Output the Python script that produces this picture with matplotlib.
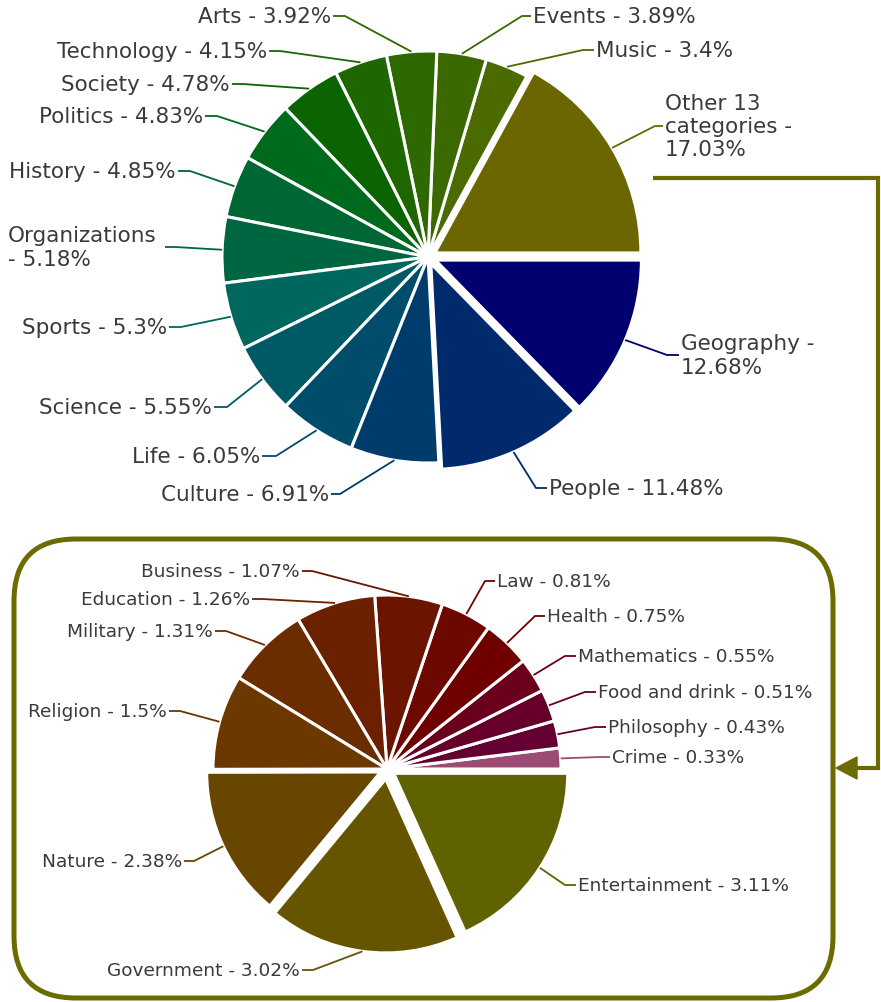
import matplotlib
matplotlib.use('Agg')
import matplotlib.pyplot as plt
from matplotlib.patches import FancyBboxPatch, Polygon
import numpy as np

W, H = 881, 1003

# ---------------- data ----------------
top_labels = ["Other 13\ncategories -\n17.03%", "Music - 3.4%", "Events - 3.89%",
              "Arts - 3.92%", "Technology - 4.15%", "Society - 4.78%",
              "Politics - 4.83%", "History - 4.85%", "Organizations\n- 5.18%",
              "Sports - 5.3%", "Science - 5.55%", "Life - 6.05%",
              "Culture - 6.91%", "People - 11.48%", "Geography -\n12.68%"]
top_values = [17.03, 3.4, 3.89, 3.92, 4.15, 4.78, 4.83, 4.85, 5.18,
              5.3, 5.55, 6.05, 6.91, 11.48, 12.68]
top_colors = ["#6b6600", "#4b6a00", "#3c6800", "#2e6800", "#1e6600", "#0c6400",
              "#006a1c", "#006634", "#006642", "#00675f", "#005a66", "#004c6b",
              "#003c6b", "#002a6b", "#00006e"]
# explode offsets in pixels
top_explode = [8, 0, 0, 0, 0, 0, 0, 0, 0, 0, 0, 0, 0, 7, 8]

bottom_labels = ["Crime - 0.33%", "Philosophy - 0.43%", "Food and drink - 0.51%",
                 "Mathematics - 0.55%", "Health - 0.75%", "Law - 0.81%",
                 "Business - 1.07%", "Education - 1.26%", "Military - 1.31%",
                 "Religion - 1.5%", "Nature - 2.38%", "Government - 3.02%",
                 "Entertainment - 3.11%"]
bottom_values = [0.33, 0.43, 0.51, 0.55, 0.75, 0.81, 1.07, 1.26, 1.31, 1.5,
                 2.38, 3.02, 3.11]
bottom_colors = ["#9c4c74", "#640032", "#66002a", "#6b001c", "#700000", "#6d0800",
                 "#6b1400", "#6b2000", "#6b2c00", "#6b3800", "#684600", "#665500",
                 "#606200"]
bottom_explode = [0, 0, 0, 0, 0, 0, 0, 0, 0, 0, 7, 10, 8]

# ---------------- layout (pixel coords, y downward) ----------------
# (text_x, text_y, ha, elbow_x, line_end_x)
top_layout = [
    (665, 127, 'left', 655, 663),
    (596, 51, 'left', 583, 594),
    (533, 17, 'left', 522, 531),
    (331, 17, 'right', 345, 333),
    (267, 52, 'right', 280, 269),
    (230, 85, 'right', 243, 232),
    (203, 117, 'right', 217, 205),
    (176, 172, 'right', 190, 178),
    (8, 248, 'left', 175, 165),
    (167, 328, 'right', 181, 169),
    (212, 408, 'right', 227, 214),
    (260, 457, 'right', 276, 262),
    (329, 495, 'right', 340, 331),
    (549, 489, 'left', 536, 547),
    (681, 356, 'left', 667, 679),
]
bottom_layout = [
    (612, 758, 'left', 600, 610),
    (608, 728, 'left', 595, 606),
    (598, 693, 'left', 585, 596),
    (578, 657, 'left', 565, 576),
    (547, 617, 'left', 535, 545),
    (497, 582, 'left', 485, 495),
    (300, 572, 'right', 312, 302),
    (250, 600, 'right', 262, 252),
    (213, 632, 'right', 226, 215),
    (167, 712, 'right', 180, 169),
    (182, 862, 'right', 194, 184),
    (300, 971, 'right', 313, 302),
    (578, 886, 'left', 565, 576),
]

TEXT = "#3a3a3a"
OLIVE = "#6b6b00"

fig = plt.figure(figsize=(W / 100, H / 100), dpi=100)
ax = fig.add_axes([0, 0, 1, 1])


def draw_pie(values, colors, explode, labels, layout, center, radius, fs):
    wedges, _ = ax.pie(values, colors=colors, explode=explode, startangle=0,
                       counterclock=True, radius=radius,
                       center=(center[0], H - center[1]),
                       wedgeprops=dict(edgecolor='white', linewidth=2.2))
    for w, lab, (tx, ty, ha, ex, lx), col in zip(wedges, labels, layout, colors):
        th = np.deg2rad((w.theta1 + w.theta2) / 2)
        cx, cy = w.center
        px, py = cx + w.r * np.cos(th), cy + w.r * np.sin(th)
        ax.plot([px, ex, lx], [py, H - ty, H - ty], color=col, lw=1.3,
                solid_capstyle='butt', zorder=3)
        ax.text(tx, H - ty, lab, ha=ha, va='center', fontsize=fs, color=TEXT,
                multialignment='left', zorder=4)


draw_pie(top_values, top_colors, top_explode, top_labels, top_layout,
         (428, 258), 206, 15.5)
draw_pie(bottom_values, bottom_colors, bottom_explode, bottom_labels, bottom_layout,
         (387, 770), 174, 13.3)

# rounded box around the breakdown pie
box = FancyBboxPatch((14, H - 999), 833 - 14, 999 - 540,
                     boxstyle="round,pad=0,rounding_size=62",
                     fill=False, edgecolor=OLIVE, lw=3.6, zorder=2)
ax.add_patch(box)

# connector with arrow
ax.plot([653, 878, 878, 852], [H - 179, H - 179, H - 769, H - 769],
        color=OLIVE, lw=3, solid_joinstyle='miter', solid_capstyle='butt', zorder=2)
ax.add_patch(Polygon([(836, H - 769), (857, H - 758), (857, H - 780)],
                     closed=True, color=OLIVE, zorder=3))

ax.set_xlim(0, W)
ax.set_ylim(0, H)
ax.set_aspect('equal')
ax.axis('off')

fig.savefig("out.png", dpi=100, facecolor='white')
